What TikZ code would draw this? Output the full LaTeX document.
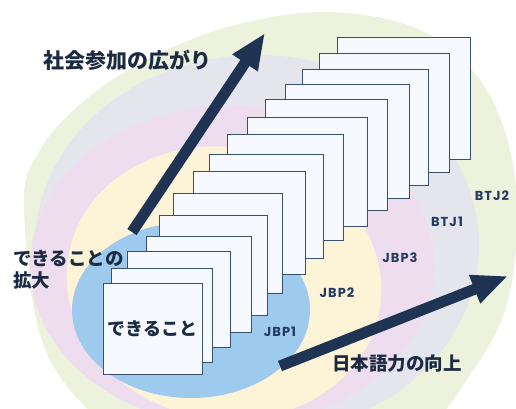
\documentclass[tikz,border=0pt]{standalone}
\usepackage{fontspec}
\usetikzlibrary{arrows.meta}
\newfontfamily\jp{Noto Sans CJK JP}
\newfontfamily\lab{Poppins Bold}[LetterSpace=8]
\definecolor{ggreen}{HTML}{EDF2DD}
\definecolor{ggrey}{HTML}{E5E5ED}
\definecolor{gpink}{HTML}{EEDDEF}
\definecolor{gyellow}{HTML}{FDF4D8}
\definecolor{gblue}{HTML}{9ECAEE}
\definecolor{arrowc}{HTML}{1E3452}
\definecolor{cardline}{HTML}{36506E}
\definecolor{cardfill}{HTML}{F6FAFF}
\definecolor{navy}{HTML}{1C2B42}
\definecolor{labc}{HTML}{243A60}
\tikzset{
  card/.style={draw=cardline, fill=cardfill, line width=1.3pt, rectangle, anchor=north west, inner sep=0pt},
  bigarrow/.style={draw=arrowc, line width=11pt, -{Triangle[width=28pt,length=36pt,fill=arrowc]}},
  jptext/.style={font=\jp\bfseries, text=navy, inner sep=0pt},
  lvl/.style={font=\lab\fontsize{13}{13}\selectfont, text=labc, inner sep=0pt}
}
\begin{document}
\begin{tikzpicture}[x=1pt,y=-1pt]
\useasboundingbox (0,0) rectangle (516,408);
\clip (0,0) rectangle (516,408);
% background levels
\fill[ggreen] plot[smooth cycle, tension=0.6] coordinates {(24,210) (40,150) (85,100) (150,58)
  (235,25) (330,12) (420,30) (480,80) (510,150) (517,230) (505,310) (470,375)
  (420,430) (300,470) (150,450) (50,360)};
\fill[ggrey] (257,245) ellipse [x radius=222pt, y radius=190pt];
\fill[gpink] (232,266) ellipse [x radius=202pt, y radius=160pt];
\fill[gyellow, rotate around={-10:(224,283)}] (224,283) ellipse [x radius=158pt, y radius=136pt];
\fill[gblue] (191,310) ellipse [x radius=119pt, y radius=88pt];
% arrows
\coordinate (upS) at (132,232);
\coordinate (upE) at (265,33);
\coordinate (rtS) at (280,366);
\coordinate (rtE) at (508,276);
\draw[bigarrow] (upS) -- (upE);
\draw[bigarrow] (rtS) -- (rtE);
% cards
\foreach \i/\x/\y/\w/\h in {15/337/37/133/122, 14/319/53/130/119, 13/302/69/126/116,
  12/285/84/124/114, 11/265/99/122/111, 10/247/117/120/109, 9/227/134/116/106,
  8/209/154/114/104, 7/193/171/112/103, 6/173/193/109/100, 5/159/215/108/100,
  4/146/236/105/96, 3/127/251/103/96, 2/111/268/101/94, 1/103/283/99/91}
  \node[card, minimum width=\w pt, minimum height=\h pt] (c\i) at (\x,\y) {};
% texts
\node[jptext, font=\jp\bfseries\fontsize{18}{18}\selectfont] (dekiru) at (152.5,329) {できること};
\node[jptext, font=\jp\bfseries\fontsize{21}{21}\selectfont, anchor=west] (shakai) at (43,60) {社会参加の広がり};
\node[jptext, font=\jp\bfseries\fontsize{18.5}{18.5}\selectfont, anchor=west] (kakudai1) at (13,258) {できることの};
\node[jptext, font=\jp\bfseries\fontsize{18.5}{18.5}\selectfont, anchor=west] (kakudai2) at (13,280) {拡大};
\node[jptext, font=\jp\bfseries\fontsize{18.5}{18.5}\selectfont, anchor=west] (nihongo) at (332,364) {日本語力の向上};
\node[lvl] (jbp1) at (280,332) {JBP1};
\node[lvl] (jbp2) at (337,293) {JBP2};
\node[lvl] (jbp3) at (400,258) {JBP3};
\node[lvl] (btj1) at (447,222) {BTJ1};
\node[lvl] (btj2) at (492,196) {BTJ2};
\end{tikzpicture}
\end{document}
